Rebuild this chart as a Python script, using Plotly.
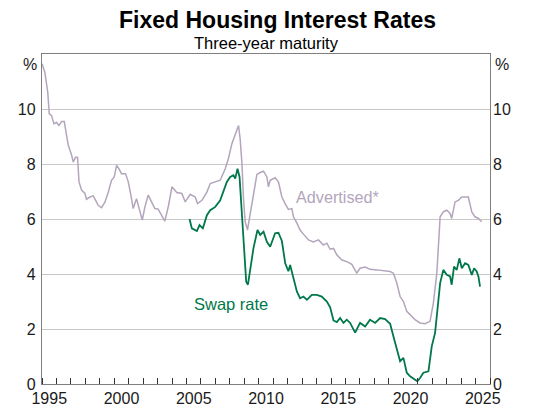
import plotly.graph_objects as go

# advertised three-year fixed rate (decimal year, per cent)
adv_year = [1995.0, 1995.2, 1995.4, 1995.5, 1995.66, 1995.83, 1996.0, 1996.17, 1996.36, 1996.54,
            1996.7, 1996.82, 1997.05, 1997.16, 1997.32, 1997.46, 1997.56, 1997.74, 1997.97, 1998.08,
            1998.32, 1998.55, 1998.71, 1998.89, 1999.12, 1999.36, 1999.59, 1999.81, 2000.0, 2000.16,
            2000.32, 2000.5, 2000.78, 2000.97, 2001.15, 2001.31, 2001.54, 2001.7, 2001.94, 2002.12,
            2002.35, 2002.58, 2002.81, 2003.04, 2003.27, 2003.5, 2003.76, 2003.99, 2004.33, 2004.68,
            2004.91, 2005.26, 2005.6, 2005.76, 2006.07, 2006.41, 2006.64, 2006.99, 2007.33, 2007.68,
            2007.9, 2008.14, 2008.37, 2008.6, 2008.71, 2008.83, 2008.94, 2009.06, 2009.22, 2009.4,
            2009.63, 2009.87, 2010.1, 2010.33, 2010.56, 2010.67, 2010.79, 2011.13, 2011.36, 2011.6,
            2011.83, 2012.05, 2012.29, 2012.4, 2012.64, 2012.86, 2013.09, 2013.44, 2013.78, 2014.13,
            2014.47, 2014.71, 2014.94, 2015.17, 2015.4, 2015.75, 2016.09, 2016.44, 2016.78, 2017.01,
            2017.36, 2017.7, 2018.17, 2018.62, 2019.09, 2019.32, 2019.55, 2019.78, 2020.01, 2020.24,
            2020.47, 2020.81, 2021.16, 2021.5, 2021.85, 2022.08, 2022.32, 2022.55, 2022.77, 2023.01,
            2023.24, 2023.35, 2023.58, 2023.81, 2024.05, 2024.5, 2024.74, 2024.96, 2025.2, 2025.43]
adv_rate = [11.65, 11.33, 10.6, 9.83, 9.76, 9.46, 9.52, 9.40, 9.55, 9.55,
            9.04, 8.68, 8.32, 8.07, 8.25, 8.25, 7.35, 7.05, 6.93, 6.72,
            6.80, 6.84, 6.68, 6.50, 6.41, 6.62, 6.98, 7.41, 7.53, 7.95,
            7.83, 7.65, 7.65, 7.35, 6.87, 6.38, 6.74, 6.38, 5.96, 6.44,
            6.87, 6.62, 6.38, 6.36, 6.14, 5.92, 6.50, 7.17, 6.96, 6.93,
            6.62, 6.90, 6.80, 6.56, 6.68, 6.98, 7.29, 7.35, 7.41, 7.83,
            8.20, 8.74, 9.04, 9.40, 8.92, 8.07, 6.75, 5.90, 5.60, 6.14,
            6.98, 7.62, 7.69, 7.74, 7.53, 7.17, 7.41, 7.50, 7.35, 6.80,
            6.55, 6.35, 6.38, 6.08, 5.85, 5.60, 5.45, 5.24, 5.17, 5.24,
            5.05, 5.12, 4.90, 4.93, 4.70, 4.51, 4.45, 4.35, 4.03, 4.21,
            4.25, 4.17, 4.15, 4.12, 4.09, 4.03, 3.67, 3.18, 3.00, 2.64,
            2.52, 2.34, 2.22, 2.19, 2.28, 2.94, 4.03, 6.08, 6.26, 6.32,
            6.20, 6.02, 6.62, 6.68, 6.80, 6.80, 6.26, 6.08, 6.02, 5.90]

# three-year swap rate
swap_year = [2005.21, 2005.37, 2005.72, 2005.9, 2006.13, 2006.41, 2006.64, 2006.99, 2007.33, 2007.56,
             2007.79, 2008.02, 2008.25, 2008.37, 2008.53, 2008.67, 2008.83, 2008.99, 2009.13, 2009.25,
             2009.4, 2009.63, 2009.91, 2010.1, 2010.33, 2010.56, 2010.79, 2011.13, 2011.36, 2011.6,
             2011.83, 2012.05, 2012.17, 2012.4, 2012.64, 2012.86, 2013.09, 2013.33, 2013.67, 2014.02,
             2014.36, 2014.71, 2014.94, 2015.17, 2015.4, 2015.63, 2015.86, 2016.09, 2016.32, 2016.67,
             2017.01, 2017.36, 2017.7, 2018.05, 2018.4, 2018.74, 2019.09, 2019.32, 2019.55, 2019.78,
             2020.01, 2020.24, 2020.47, 2020.81, 2020.97, 2021.16, 2021.39, 2021.74, 2021.97, 2022.2,
             2022.36, 2022.55, 2022.77, 2023.01, 2023.24, 2023.35, 2023.51, 2023.7, 2023.88, 2024.05,
             2024.28, 2024.5, 2024.74, 2024.9, 2025.08, 2025.2, 2025.31]
swap_rate = [6.00, 5.66, 5.56, 5.78, 5.66, 6.14, 6.32, 6.44, 6.68, 6.98,
             7.35, 7.53, 7.59, 7.47, 7.83, 7.53, 6.14, 4.69, 3.72, 3.61,
             4.09, 4.93, 5.60, 5.42, 5.54, 5.17, 4.99, 5.48, 5.50, 5.20,
             4.39, 4.10, 4.33, 3.85, 3.36, 3.12, 3.18, 3.06, 3.24, 3.24,
             3.18, 3.00, 2.79, 2.31, 2.25, 2.40, 2.22, 2.34, 2.22, 1.87,
             2.22, 2.09, 2.34, 2.22, 2.40, 2.36, 2.19, 1.73, 1.25, 0.83,
             0.95, 0.41, 0.28, 0.16, 0.10, 0.22, 0.41, 0.46, 1.37, 1.86,
             2.82, 3.67, 4.15, 3.97, 3.91, 3.61, 4.27, 4.15, 4.57, 4.21,
             4.39, 4.33, 3.97, 4.21, 4.09, 3.91, 3.54]

label_years = [1995, 2000, 2005, 2010, 2015, 2020, 2025]
y_ticks = [0, 2, 4, 6, 8, 10]

FONT = "Liberation Sans, Arial, sans-serif"
ADV_COL = "#b3a5bb"
SWAP_COL = "#00784a"
AXIS_COL = "#7f7f7f"

fig = go.Figure()
fig.add_trace(go.Scatter(x=adv_year, y=adv_rate, mode="lines",
                         line=dict(color=ADV_COL, width=1.5), hoverinfo="skip"))
fig.add_trace(go.Scatter(x=swap_year, y=swap_rate, mode="lines",
                         line=dict(color=SWAP_COL, width=1.8), hoverinfo="skip"))
# dummy trace so the right hand axis gets drawn
fig.add_trace(go.Scatter(x=[1995], y=[0], yaxis="y2", mode="lines",
                         line=dict(width=0), hoverinfo="skip"))

# page has an 8px body margin, so margins are trimmed to land the plot in place
fig.update_layout(
    width=539, height=419,
    margin=dict(l=34, r=57, t=46, b=43, autoexpand=False),
    paper_bgcolor="white", plot_bgcolor="white",
    showlegend=False,
    font=dict(family=FONT, size=16, color="#1a1a1a"),
    title=dict(text="<b>Fixed Housing Interest Rates</b>", x=0.5, xanchor="center",
               y=0.972, yanchor="middle", font=dict(size=23, color="black")),
    xaxis=dict(range=[1995, 2026], showgrid=False, zeroline=False,
               showline=True, linecolor=AXIS_COL, linewidth=1.3, mirror=True,
               tickmode="array", tickvals=[y + 0.5 for y in label_years],
               ticktext=[str(y) for y in label_years], ticks="", ticklen=0,
               minor=dict(ticks="inside", ticklen=6, tickcolor="#333333", tickwidth=1,
                          tickmode="linear", tick0=1995, dtick=1, showgrid=False),
               tickfont=dict(size=16)),
    yaxis=dict(range=[0, 12], tickvals=y_ticks, showgrid=True, gridcolor="#c8c8c8",
               gridwidth=1, zeroline=False, showline=True, linecolor=AXIS_COL,
               linewidth=1.3, mirror=True, ticks="", tickfont=dict(size=16),
               ticklabelstandoff=2),
    yaxis2=dict(range=[0, 12], tickvals=y_ticks, overlaying="y", side="right",
                showgrid=False, zeroline=False, showline=False, ticks="",
                tickfont=dict(size=16), ticklabelstandoff=2),
)

fig.add_annotation(text="Three-year maturity", xref="paper", yref="paper", x=0.5, y=1.0,
                   yanchor="top", yshift=22, showarrow=False,
                   font=dict(size=16.5, color="black"))
fig.add_annotation(text="%", xref="paper", yref="paper", x=0, y=1, xanchor="right",
                   yanchor="top", xshift=-3, showarrow=False, font=dict(size=16))
fig.add_annotation(text="%", xref="paper", yref="paper", x=1, y=1, xanchor="left",
                   yanchor="top", xshift=3, showarrow=False, font=dict(size=16))
fig.add_annotation(text="Advertised*", x=2015.42, y=6.8, showarrow=False,
                   font=dict(size=16.2, color=ADV_COL))
fig.add_annotation(text="Swap rate", x=2008.1, y=2.92, showarrow=False,
                   font=dict(size=16.5, color=SWAP_COL))

fig.write_html("out.html")
